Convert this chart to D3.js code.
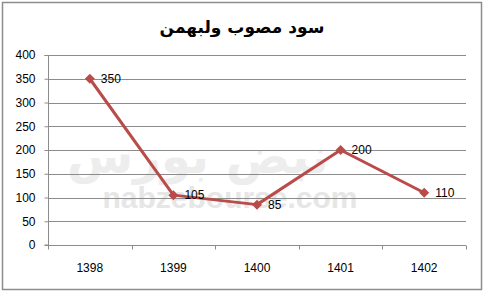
<!DOCTYPE html>
<html>
<head>
<meta charset="utf-8">
<script src="https://cdn.jsdelivr.net/npm/d3@7"></script>
<style>
  body { margin: 0; background: #fff; }
  text { font-family: "Liberation Sans", sans-serif; }
</style>
</head>
<body>
<div id="chart"></div>
<script>
const titleText = "سود مصوب ولبهمن";
const years = ["1398", "1399", "1400", "1401", "1402"];
const values = [350, 105, 85, 200, 110];
const yTicks = [0, 50, 100, 150, 200, 250, 300, 350, 400];

function drawChart(containerId) {
  const W = 484, H = 294;
  const margin = { top: 55, right: 18, bottom: 49, left: 48 },
        width = W - margin.left - margin.right,
        height = H - margin.top - margin.bottom;

  d3.select(`#${containerId}`).html("");

  const root = d3.select(`#${containerId}`)
      .append("svg")
          .attr("width", W)
          .attr("height", H);

  // outer frame
  root.append("rect")
      .attr("x", 2.5).attr("y", 2.5)
      .attr("width", W - 5).attr("height", H - 7)
      .attr("fill", "white")
      .attr("stroke", "#8c8c8c")
      .attr("stroke-width", 1.5);

  // title
  root.append("text")
      .attr("x", 242)
      .attr("y", 33)
      .attr("text-anchor", "middle")
      .style("font-family", "'DejaVu Sans', sans-serif")
      .style("font-size", "17px")
      .style("font-weight", "bold")
      .text(titleText);

  const svg = root.append("g")
      .attr("transform", `translate(${margin.left},${margin.top})`);

  // watermark (faint logo text behind the plot)
  svg.append("text")
      .attr("x", 150)
      .attr("y", 118)
      .attr("text-anchor", "middle")
      .style("font-family", "'DejaVu Sans', sans-serif")
      .style("font-size", "48px")
      .style("font-weight", "bold")
      .style("fill", "#ededed")
      .text("نبض بورس");
  svg.append("text")
      .attr("x", 182)
      .attr("y", 153)
      .attr("text-anchor", "middle")
      .style("font-size", "30px")
      .style("font-weight", "bold")
      .style("fill", "#e6e6e6")
      .text("nabzebourse.com");

  const x = d3.scaleBand()
      .domain(years)
      .range([0, width]);

  const y = d3.scaleLinear()
      .domain([0, 400])
      .range([height, 0]);

  // gridlines
  svg.append("g")
      .selectAll("line")
      .data(yTicks.filter(d => d > 0))
      .join("line")
          .attr("x1", 0)
          .attr("x2", width)
          .attr("y1", d => Math.round(y(d)) + 0.5)
          .attr("y2", d => Math.round(y(d)) + 0.5)
          .attr("stroke", "#8c8c8c")
          .attr("stroke-width", 1);

  // y axis
  const yAxis = svg.append("g")
      .attr("transform", "translate(0.5,0)")
      .call(d3.axisLeft(y).tickValues(yTicks).tickSize(4).tickPadding(9));
  yAxis.selectAll("line, path").attr("stroke", "#8c8c8c");
  yAxis.select(".domain").attr("d", `M-4,0.5H0V${height}H-4`);
  yAxis.selectAll("text")
      .style("font-size", "12px")
      .style("font-family", "'Liberation Sans', sans-serif")
      .attr("fill", "#000");

  // x axis with ticks at category boundaries
  const xAxis = svg.append("g")
      .attr("transform", `translate(0,${Math.round(height) + 0.5})`);
  xAxis.append("line")
      .attr("x1", 0).attr("x2", width)
      .attr("stroke", "#8c8c8c");
  xAxis.selectAll("line.tick")
      .data(years.map(d => x(d)).concat([width]))
      .join("line")
          .attr("class", "tick")
          .attr("x1", d => Math.round(d) + 0.5)
          .attr("x2", d => Math.round(d) + 0.5)
          .attr("y1", 0).attr("y2", 4)
          .attr("stroke", "#8c8c8c");
  xAxis.selectAll("text")
      .data(years)
      .join("text")
          .attr("x", d => x(d) + x.bandwidth() / 2)
          .attr("y", 26)
          .attr("text-anchor", "middle")
          .style("font-size", "12px")
          .text(d => d);

  // line
  const pts = years.map((d, i) => ({ year: d, value: values[i] }));
  svg.append("path")
      .datum(pts)
      .attr("fill", "none")
      .attr("stroke", "#b94c49")
      .attr("stroke-width", 3)
      .attr("stroke-linejoin", "round")
      .attr("d", d3.line()
          .x(d => x(d.year) + x.bandwidth() / 2)
          .y(d => y(d.value)));

  // diamond markers
  svg.append("g")
      .selectAll("path")
      .data(pts)
      .join("path")
          .attr("transform", d => `translate(${x(d.year) + x.bandwidth() / 2},${y(d.value)})`)
          .attr("d", "M0,-5L5,0L0,5L-5,0Z")
          .attr("fill", "#b94c49");

  // data labels
  svg.append("g")
      .selectAll("text")
      .data(pts)
      .join("text")
          .attr("x", d => x(d.year) + x.bandwidth() / 2 + 11)
          .attr("y", d => y(d.value))
          .attr("dy", "0.35em")
          .style("font-size", "12px")
          .text(d => d.value);
}

document.addEventListener("DOMContentLoaded", function () {
  drawChart("chart");
});
</script>
</body>
</html>
